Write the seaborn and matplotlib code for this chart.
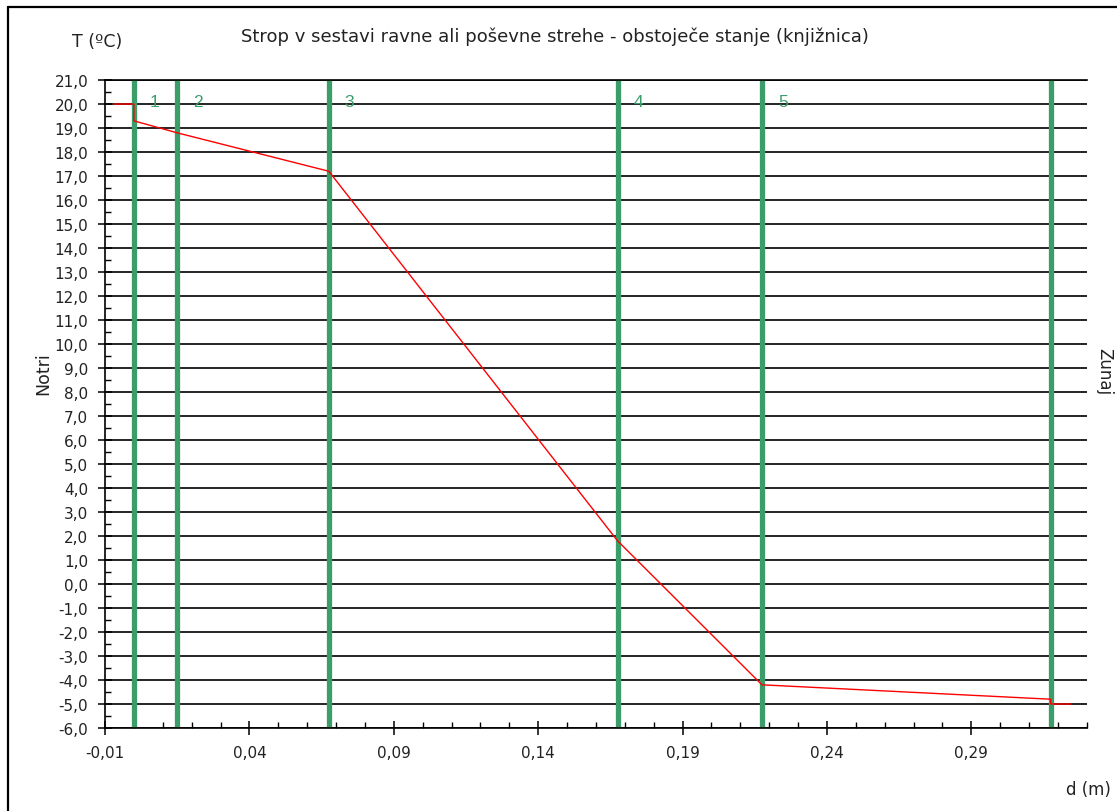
import numpy as np
import pandas as pd
import matplotlib
matplotlib.use("Agg")
import matplotlib.pyplot as plt
from matplotlib.lines import Line2D
from matplotlib.ticker import MultipleLocator, FixedLocator, FuncFormatter
import seaborn as sns

# ── data ──────────────────────────────────────────────────────────────────────
TITLE = "Strop v sestavi ravne ali poševne strehe - obstoječe stanje (knjižnica)"

# temperature profile through the construction (inside -> outside)
DEPTH = [-0.007, 0.0, 0.0, 0.015, 0.0675, 0.1675, 0.2175, 0.3175, 0.3175, 0.3245]
TEMP = [20.0, 20.0, 19.3, 18.8, 17.2, 1.8, -4.2, -4.8, -5.0, -5.0]

# layer boundaries (m) and layer numbers
LAYER_EDGES = [0.0, 0.015, 0.0675, 0.1675, 0.2175, 0.3175]
LAYER_NAMES = ["1", "2", "3", "4", "5"]

X_TICKS = [-0.01, 0.04, 0.09, 0.14, 0.19, 0.24, 0.29]
Y_TICKS = list(range(-6, 22))

GREEN = "#3a9d6a"
TXT = "#222222"

# ── style ─────────────────────────────────────────────────────────────────────
sns.set_style("white")
plt.rcParams["font.family"] = ["DejaVu Sans"]

df = pd.DataFrame({"d": DEPTH, "T": TEMP})

fig = plt.figure(figsize=(11.17, 8.12), dpi=100, facecolor="white")
ax = fig.add_axes([0.094, 0.1022, 0.879, 0.798])

# layer boundaries
for x in LAYER_EDGES:
    ax.axvline(x, color=GREEN, lw=3.8, zorder=2)
for x, name in zip(LAYER_EDGES, LAYER_NAMES):
    ax.annotate(name, xy=(x, 20.1), xytext=(15, 0), textcoords="offset points",
                ha="center", va="center", color=GREEN, fontsize=12.5,
                family="Liberation Sans", zorder=4)

sns.lineplot(data=df, x="d", y="T", sort=False, estimator=None, ax=ax,
             color="#ff0000", lw=1.0, zorder=3)

ax.set_xlim(-0.01, 0.33)
ax.set_ylim(-6, 21)

ax.xaxis.set_major_locator(FixedLocator(X_TICKS))
ax.xaxis.set_minor_locator(MultipleLocator(0.01))
ax.yaxis.set_major_locator(FixedLocator(Y_TICKS))
ax.yaxis.set_minor_locator(MultipleLocator(0.5))
ax.xaxis.set_major_formatter(FuncFormatter(lambda v, p: f"{v:.2f}".replace(".", ",")))
ax.yaxis.set_major_formatter(FuncFormatter(lambda v, p: f"{v:.1f}".replace(".", ",")))

ax.yaxis.grid(True, which="major", color="black", lw=1.2, zorder=1)
ax.xaxis.grid(False)
ax.set_axisbelow(True)

ax.tick_params(which="major", direction="inout", length=10, width=1.1,
               color="black", labelsize=11, labelcolor=TXT, pad=7)
ax.tick_params(which="minor", direction="in", length=4, width=1.0, color="black")
ax.tick_params(axis="x", which="both", bottom=True)
ax.tick_params(axis="y", which="both", left=True)

for side in ["left", "bottom", "top"]:
    ax.spines[side].set_color("black")
    ax.spines[side].set_linewidth(1.2)
ax.spines["right"].set_visible(False)

ax.set_xlabel("")
ax.set_ylabel("")

# texts
fig.text(555 / 1117, 1 - 37 / 812, TITLE, ha="center", va="center",
         fontsize=13, color=TXT)
fig.text(97 / 1117, 1 - 42 / 812, "T (ºC)", ha="center", va="center",
         fontsize=12.5, color=TXT)
fig.text(43 / 1117, 1 - 374 / 812, "Notri", ha="center", va="center",
         rotation=90, fontsize=12.5, color=TXT)
fig.text(1104 / 1117, 1 - 372 / 812, "Zunaj", ha="center", va="center",
         rotation=270, fontsize=12, color=TXT)
fig.text(1088 / 1117, 1 - 790 / 812, "d (m)", ha="center", va="center",
         fontsize=12, color=TXT)

# outer frame (left and top edges visible)
fig.add_artist(Line2D([8 / 1117, 8 / 1117], [0, 1 - 8 / 812], color="black",
                      lw=1.6, transform=fig.transFigure))
fig.add_artist(Line2D([8 / 1117, 1], [1 - 8 / 812, 1 - 8 / 812], color="black",
                      lw=1.6, transform=fig.transFigure))

fig.savefig("out.png", dpi=100, facecolor="white")
